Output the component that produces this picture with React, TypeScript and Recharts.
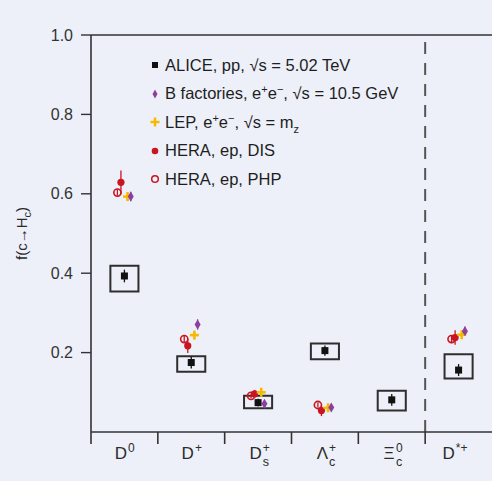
import React from 'react';
import {
  ComposedChart,
  Scatter,
  XAxis,
  YAxis,
  ErrorBar,
  ReferenceArea,
  ReferenceLine,
  Legend,
} from 'recharts';

// ---------- data ----------
const catBase = ['D', 'D', 'D', 'Λ', 'Ξ', 'D'];
const catSup = ['0', '+', '+', '+', '0', '*+'];
const catSub = ['', '', 's', 'c', 'c', ''];

const aliceValues = [0.393, 0.175, 0.074, 0.205, 0.081, 0.156];
const aliceStatErr = [0.016, 0.015, 0.01, 0.013, 0.015, 0.015];
const aliceSysLow = [0.354, 0.152, 0.06, 0.183, 0.054, 0.135];
const aliceSysHigh = [0.419, 0.191, 0.091, 0.223, 0.104, 0.196];

const bFactValues = [0.593, 0.271, 0.071, 0.062, null, 0.254];
const bFactErr = [0.012, 0.013, 0.006, 0.006, null, 0.012];
const lepValues = [0.593, 0.244, 0.1, 0.061, null, 0.245];
const lepErr = [0.01, 0.008, 0.006, 0.004, null, 0.008];
const heraDisValues = [0.629, 0.217, 0.096, 0.054, null, 0.238];
const heraDisErr = [0.03, 0.018, 0.01, 0.014, null, 0.018];
const heraPhpValues = [0.603, 0.234, 0.091, 0.068, null, 0.234];
const heraPhpErr = [0.008, 0.008, 0.006, 0.006, null, 0.01];

const yTicks = [0.2, 0.4, 0.6, 0.8, 1.0];

// ---------- styling ----------
const BG = '#edf0f8';
const AX = '#333333';
const FONT = '"Liberation Sans", Arial, sans-serif';
const C_ALICE = '#111111';
const C_BF = '#8e3f9e';
const C_LEP = '#f7b900';
const C_HERA = '#c8151f';

const OFF_PHP = -0.105;
const OFF_DIS = -0.052;
const OFF_LEP = 0.047;
const OFF_BF = 0.095;
const BOX_HALF = 0.21;

const build = (vals: (number | null)[], errs: (number | null)[], off: number) =>
  vals
    .map((v, i) => (v == null ? null : { x: i + 0.5 + off, y: v, err: errs[i] }))
    .filter((d) => d !== null) as { x: number; y: number; err: number }[];

const aliceData = build(aliceValues, aliceStatErr, 0);
const bfData = build(bFactValues, bFactErr, OFF_BF);
const lepData = build(lepValues, lepErr, OFF_LEP);
const disData = build(heraDisValues, heraDisErr, OFF_DIS);
const phpData = build(heraPhpValues, heraPhpErr, OFF_PHP);

const xTicks = [0, 0.5, 1, 1.5, 2, 2.5, 3, 3.5, 4, 4.5, 5, 5.5];

// ---------- shapes ----------
const SquareShape = (p: any) => (
  <rect x={p.cx - 3.5} y={p.cy - 3.5} width={7} height={7} fill={C_ALICE} />
);
const DiamondShape = (p: any) => (
  <polygon
    points={`${p.cx},${p.cy - 5} ${p.cx + 3},${p.cy} ${p.cx},${p.cy + 5} ${p.cx - 3},${p.cy}`}
    fill={C_BF}
  />
);
const PlusShape = (p: any) => (
  <g>
    <rect x={p.cx - 4.5} y={p.cy - 1.3} width={9} height={2.6} fill={C_LEP} />
    <rect x={p.cx - 1.3} y={p.cy - 4.5} width={2.6} height={9} fill={C_LEP} />
  </g>
);
const DotShape = (p: any) => <circle cx={p.cx} cy={p.cy} r={3.6} fill={C_HERA} />;
const OpenShape = (p: any) => (
  <circle cx={p.cx} cy={p.cy} r={3.6} fill="none" stroke={C_HERA} strokeWidth={1.6} />
);

// ---------- axis ticks / labels ----------
const XTick = (props: any) => {
  const { x, y, payload } = props;
  const v = payload.value as number;
  if (Math.abs(v - Math.round(v)) < 1e-6) {
    return <line x1={x} x2={x} y1={y} y2={y + 12} stroke={AX} strokeWidth={1.6} />;
  }
  const i = Math.floor(v);
  const baseW = catBase[i] === 'D' ? 12.3 : 11.3;
  const supW = catSup[i] === '*+' ? 20 : 7;
  const total = baseW + supW;
  const left = x - total / 2 + (catSub[i] ? 1 : 0);
  return (
    <g fontFamily={FONT} fill="#2b2b2b">
      <text x={left} y={y + 27} fontSize={17}>
        {catBase[i]}
      </text>
      <text x={left + baseW + 1} y={y + 19.5} fontSize={12}>
        {catSup[i]}
      </text>
      {catSub[i] ? (
        <text x={left + baseW + 1} y={y + 34} fontSize={12.5}>
          {catSub[i]}
        </text>
      ) : null}
    </g>
  );
};

const YLabel = (props: any) => {
  const vb = props.viewBox || { y: 35, height: 397 };
  const cy = vb.y + vb.height / 2;
  return (
    <text
      transform={`translate(27,${cy}) rotate(-90)`}
      textAnchor="middle"
      fontSize={15}
      fontFamily={FONT}
      fill="#2b2b2b"
    >
      f(c→H
      <tspan dy={4} fontSize={11}>
        c
      </tspan>
      <tspan dy={-4}>)</tspan>
    </text>
  );
};

// ---------- legend ----------
const supS: React.CSSProperties = { fontSize: 11, position: 'relative', top: -6 };
const subS: React.CSSProperties = { fontSize: 11, position: 'relative', top: 5 };

const legendItems = [
  {
    icon: <rect x={3} y={3} width={6} height={6} fill={C_ALICE} />,
    text: <span>ALICE, pp, √s = 5.02 TeV</span>,
  },
  {
    icon: <polygon points="6,1.5 8.5,6 6,10.5 3.5,6" fill={C_BF} />,
    text: (
      <span>
        B factories, e<span style={supS}>+</span>e<span style={supS}>−</span>, √s = 10.5 GeV
      </span>
    ),
  },
  {
    icon: (
      <g>
        <rect x={1.5} y={4.8} width={9} height={2.4} fill={C_LEP} />
        <rect x={4.8} y={1.5} width={2.4} height={9} fill={C_LEP} />
      </g>
    ),
    text: (
      <span>
        LEP, e<span style={supS}>+</span>e<span style={supS}>−</span>, √s = m
        <span style={subS}>z</span>
      </span>
    ),
  },
  {
    icon: <circle cx={6} cy={6} r={3.3} fill={C_HERA} />,
    text: <span>HERA, ep, DIS</span>,
  },
  {
    icon: <circle cx={6} cy={6} r={3.3} fill="none" stroke={C_HERA} strokeWidth={1.5} />,
    text: <span>HERA, ep, PHP</span>,
  },
];

const renderLegend = () => (
  <div style={{ fontFamily: FONT, fontSize: 16.5, color: '#1e1e1e' }}>
    {legendItems.map((it, i) => (
      <div key={i} style={{ display: 'flex', alignItems: 'center', height: 28.5, whiteSpace: 'nowrap' }}>
        <svg width={12} height={12} style={{ marginRight: 4 }}>
          {it.icon}
        </svg>
        {it.text}
      </div>
    ))}
  </div>
);

export default function App() {
  return (
    <div
      style={{
        position: 'absolute',
        left: 0,
        top: 0,
        width: 492,
        height: 481,
        background: BG,
      }}
    >
      <ComposedChart width={492} height={481} margin={{ top: 35, right: 0, bottom: 0, left: 0 }}>
        <XAxis
          type="number"
          dataKey="x"
          domain={[0, 6]}
          ticks={xTicks}
          interval={0}
          tickLine={false}
          tickSize={0}
          tickMargin={0}
          tick={<XTick />}
          axisLine={{ stroke: AX, strokeWidth: 1.6 }}
          height={49}
          allowDataOverflow
        />
        <YAxis
          type="number"
          dataKey="y"
          domain={[0, 1]}
          ticks={yTicks}
          interval={0}
          tickFormatter={(v: number) => v.toFixed(1)}
          tickSize={10}
          tickMargin={8}
          width={91}
          tick={{ fontSize: 16, fill: '#333', fontFamily: FONT }}
          tickLine={{ stroke: AX, strokeWidth: 1.4 }}
          axisLine={{ stroke: AX, strokeWidth: 1.6 }}
          label={{ content: <YLabel /> }}
        />
        <ReferenceLine y={1} stroke={AX} strokeWidth={1.6} ifOverflow="visible" />
        <ReferenceLine x={5} stroke="#555" strokeWidth={2} strokeDasharray="12 9" ifOverflow="visible" />
        {aliceValues.map((_, i) => (
          <ReferenceArea
            key={i}
            x1={i + 0.5 - BOX_HALF}
            x2={i + 0.5 + BOX_HALF}
            y1={aliceSysLow[i]}
            y2={aliceSysHigh[i]}
            fill="none"
            stroke="#2e2e2e"
            strokeWidth={2}
            ifOverflow="visible"
          />
        ))}
        <Scatter name="HERA, ep, PHP" data={phpData} shape={OpenShape} isAnimationActive={false}>
          <ErrorBar dataKey="err" direction="y" width={0} stroke={C_HERA} strokeWidth={1.3} />
        </Scatter>
        <Scatter name="HERA, ep, DIS" data={disData} shape={DotShape} isAnimationActive={false}>
          <ErrorBar dataKey="err" direction="y" width={0} stroke={C_HERA} strokeWidth={1.3} />
        </Scatter>
        <Scatter name="LEP" data={lepData} shape={PlusShape} isAnimationActive={false}>
          <ErrorBar dataKey="err" direction="y" width={0} stroke={C_LEP} strokeWidth={1.3} />
        </Scatter>
        <Scatter name="B factories" data={bfData} shape={DiamondShape} isAnimationActive={false}>
          <ErrorBar dataKey="err" direction="y" width={0} stroke={C_BF} strokeWidth={1.3} />
        </Scatter>
        <Scatter name="ALICE" data={aliceData} shape={SquareShape} isAnimationActive={false}>
          <ErrorBar dataKey="err" direction="y" width={0} stroke={C_ALICE} strokeWidth={1.3} />
        </Scatter>
        <Legend
          layout="vertical"
          align="center"
          verticalAlign="middle"
          wrapperStyle={{ left: 149, top: 51, width: 320 }}
          content={renderLegend}
        />
      </ComposedChart>
    </div>
  );
}
